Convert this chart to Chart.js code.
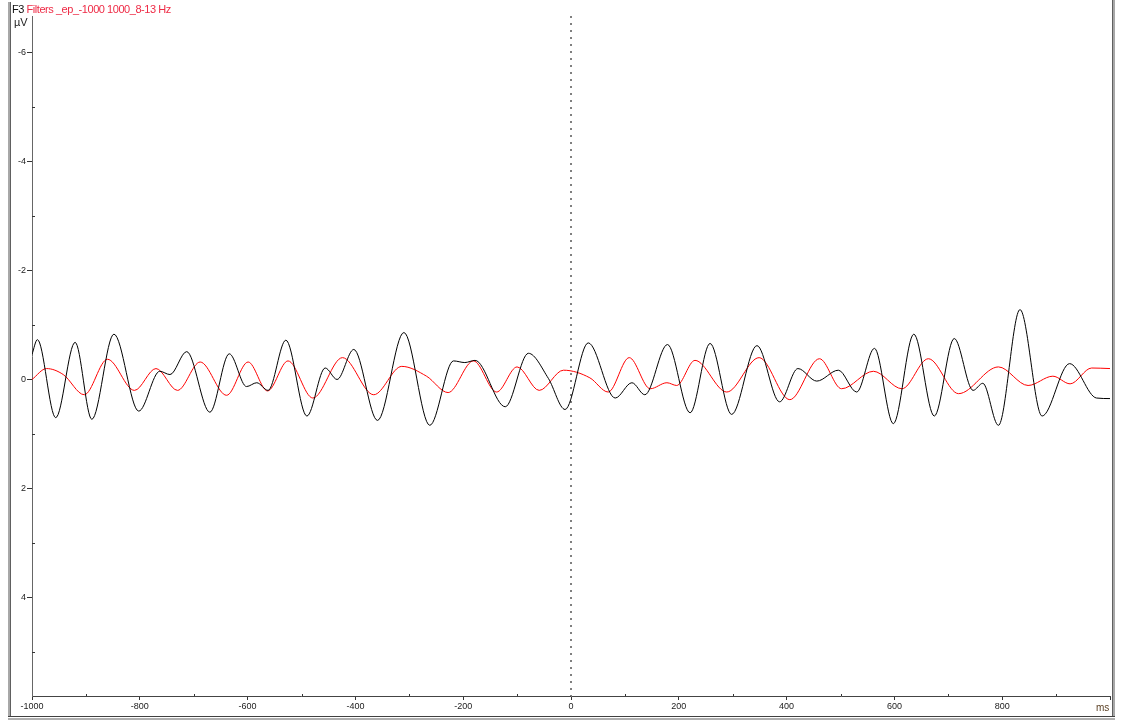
<!DOCTYPE html>
<html>
<head>
<meta charset="utf-8">
<title>F3 Filters</title>
<script src="https://cdn.jsdelivr.net/npm/chart.js@4"></script>
<style>
body { margin: 0; background: #fff; }
#wrap { position: relative; width: 1121px; height: 720px; overflow: hidden; font-family: 'Liberation Sans', Arial, sans-serif; }
#wrap canvas { position: absolute; left: 0; top: 0; }
.frame-left { position: absolute; left: 8px; top: 2px; width: 2px; height: 715px; background: #a8a8a8; border-right: 1px solid #606060; }
.frame-right { position: absolute; left: 1112px; top: 0; width: 2px; height: 717px; background: #a8a8a8; border-left: 1px solid #606060; }
.frame-bottom { position: absolute; left: 8px; top: 716px; width: 1107px; height: 1px; background: #404040; }
.frame-bottom2 { position: absolute; left: 8px; top: 718px; width: 1107px; height: 2px; background: #b0b0b0; }
#title { position: absolute; left: 12px; top: 3px; font-size: 11px; line-height: 12px; letter-spacing: -0.45px; white-space: nowrap; color: #ee2a45; }
#title b { font-weight: normal; color: #111; }
#unitY { position: absolute; left: 14px; top: 16px; font-size: 11px; line-height: 12px; color: #222; }
#unitX { position: absolute; left: 1096px; top: 702px; font-size: 10px; line-height: 11px; color: #5a3f22; }
</style>
</head>
<body>
<div id="wrap">
  <canvas id="eegChart" width="1121" height="720"></canvas>
  <div class="frame-left"></div>
  <div class="frame-right"></div>
  <div class="frame-bottom"></div>
  <div class="frame-bottom2"></div>
  <div id="title"><b>F3</b> Filters _ep_-1000 1000_8-13 Hz</div>
  <div id="unitY">µV</div>
  <div id="unitX">ms</div>
</div>
<script>
// Ejes
var xMin = -1000, xMax = 1000;
var yMin = -6.66, yMax = 5.8;
var xTicks = [-1000, -800, -600, -400, -200, 0, 200, 400, 600, 800, 1000];
var xTickLabels = ['-1000', '-800', '-600', '-400', '-200', '0', '200', '400', '600', '800', ''];
var xMinor = [-900, -700, -500, -300, -100, 100, 300, 500, 700, 900];
var yTicks = [-6, -4, -2, 0, 2, 4];
var yTickLabels = ['-6', '-4', '-2', '0', '2', '4'];
var yMinor = [-5, -3, -1, 1, 3, 5];

// Serie negra (ms / µV)
var blackTimes = [-1000, -990, -956, -920, -889, -848, -802, -763, -744, -713,
    -670, -634, -602, -583, -562, -529, -490, -456, -434, -403,
    -359, -310, -262, -218, -197, -178, -122, -79, -42, -11,
    32, 82, 113, 137, 179, 221, 258, 298, 345, 387,
    421, 456, 496, 530, 563, 598, 636, 674, 711, 746,
    764, 793, 833, 874, 925, 975, 1000];
var blackValues = [-0.46, -0.73, 0.70, -0.68, 0.73, -0.83, 0.58, -0.15, -0.09, -0.51,
    0.60, -0.47, 0.13, 0.06, 0.20, -0.72, 0.67, -0.21, 0.0, -0.55,
    0.75, -0.86, 0.84, -0.34, -0.31, -0.35, 0.50, -0.48, -0.02, 0.55,
    -0.67, 0.34, 0.06, 0.28, -0.64, 0.61, -0.66, 0.64, -0.62, 0.41,
    -0.20, 0.03, -0.17, 0.23, -0.57, 0.81, -0.83, 0.67, -0.75, 0.20,
    0.07, 0.84, -1.28, 0.67, -0.29, 0.34, 0.35];

// Serie roja
var redTimes = [-1000, -973, -942, -903, -860, -810, -770, -730, -688, -639,
    -599, -563, -525, -479, -424, -366, -314, -268, -228, -181,
    -138, -100, -59, -14, 35, 69, 108, 147, 178, 196,
    230, 289, 349, 406, 461, 502, 561, 614, 663, 719,
    793, 848, 894, 926, 966, 1000];
var redValues = [0, -0.20, -0.09, 0.28, -0.37, 0.20, -0.20, 0.20, -0.32, 0.29,
    -0.32, 0.21, -0.34, 0.34, -0.40, 0.28, -0.24, -0.06, 0.24, -0.34,
    0.23, -0.23, 0.20, -0.17, -0.03, 0.23, -0.40, 0.17, 0.06, 0.11,
    -0.35, 0.23, -0.40, 0.37, -0.38, 0.17, -0.15, 0.17, -0.38, 0.26,
    -0.23, 0.11, -0.06, 0.08, -0.21, -0.20];

function toPoints(times, values) {
    return times.map(function(t, i) { return { x: t, y: values[i] }; });
}

// Marcas menores hacia dentro del área
var minorTicksPlugin = {
    id: 'minorTicks',
    afterDraw: function(chart) {
        var g = chart.ctx, xs = chart.scales.x, ys = chart.scales.y, a = chart.chartArea;
        g.save();
        g.strokeStyle = '#333';
        g.lineWidth = 1;
        g.beginPath();
        xMinor.forEach(function(v) {
            var p = Math.round(xs.getPixelForValue(v)) + 0.5;
            g.moveTo(p, a.bottom);
            g.lineTo(p, a.bottom - 2);
        });
        yMinor.forEach(function(v) {
            var p = Math.round(ys.getPixelForValue(v)) + 0.5;
            g.moveTo(a.left, p);
            g.lineTo(a.left + 3, p);
        });
        g.stroke();
        g.restore();
    }
};

var ctx = document.getElementById('eegChart').getContext('2d');
var eegChart = new Chart(ctx, {
    type: 'line',
    data: {
        datasets: [{
            label: 'cero',
            data: [{ x: 0, y: yMin }, { x: 0, y: yMax }],
            borderColor: '#000',
            borderWidth: 1,
            borderDash: [2, 5],
            pointRadius: 0
        }, {
            label: 'F3 negra',
            data: toPoints(blackTimes, blackValues),
            borderColor: '#000',
            borderWidth: 1,
            pointRadius: 0,
            cubicInterpolationMode: 'monotone'
        }, {
            label: 'F3 roja',
            data: toPoints(redTimes, redValues),
            borderColor: '#ff0000',
            borderWidth: 1,
            pointRadius: 0,
            cubicInterpolationMode: 'monotone'
        }]
    },
    options: {
        responsive: false,
        animation: false,
        layout: { padding: { left: 0, top: 16, right: 11, bottom: 0 } },
        plugins: { legend: { display: false }, tooltip: { enabled: false } },
        scales: {
            x: {
                type: 'linear',
                min: xMin,
                max: xMax,
                afterBuildTicks: function(s) { s.ticks = xTicks.map(function(v) { return { value: v }; }); },
                afterFit: function(s) { s.height = 24; },
                ticks: {
                    autoSkip: false,
                    maxRotation: 0,
                    padding: 1,
                    color: '#222',
                    font: { family: "'Liberation Sans', Arial, sans-serif", size: 9 },
                    callback: function(v) { return xTickLabels[xTicks.indexOf(v)]; }
                },
                grid: { drawOnChartArea: false, tickLength: 4, color: '#333' },
                border: { color: '#444', width: 1 }
            },
            y: {
                type: 'linear',
                reverse: true,
                min: yMin,
                max: yMax,
                afterBuildTicks: function(s) { s.ticks = yTicks.map(function(v) { return { value: v }; }); },
                afterFit: function(s) { s.width = 32; },
                ticks: {
                    padding: 1,
                    color: '#222',
                    font: { family: "'Liberation Sans', Arial, sans-serif", size: 9 },
                    callback: function(v) { return yTickLabels[yTicks.indexOf(v)]; }
                },
                grid: { drawOnChartArea: false, tickLength: 5, color: '#333' },
                border: { color: '#666', width: 1 }
            }
        }
    },
    plugins: [minorTicksPlugin]
});
</script>
</body>
</html>
